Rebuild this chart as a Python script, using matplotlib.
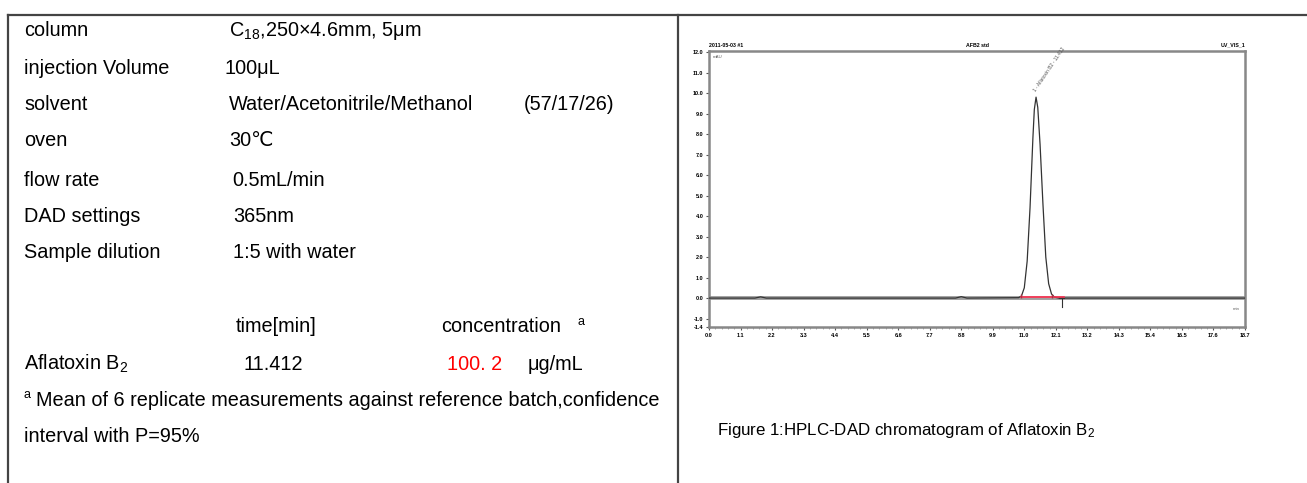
import numpy as np
import matplotlib.pyplot as plt
from matplotlib.lines import Line2D

plt.rcParams['font.family'] = ['Liberation Sans', 'DejaVu Sans']
plt.rcParams['mathtext.fontset'] = 'custom'
plt.rcParams['mathtext.rm'] = 'Liberation Sans'
plt.rcParams['mathtext.it'] = 'Liberation Sans'
plt.rcParams['mathtext.bf'] = 'Liberation Sans:bold'

# --- method table (left panel) ---
param_names = ["column", "injection Volume", "solvent", "oven",
               "flow rate", "DAD settings", "Sample dilution"]
param_values = ["C$_{18}$,250×4.6mm, 5μm", "100μL", "Water/Acetonitrile/Methanol",
                "30℃", "0.5mL/min", "365nm", "1:5 with water"]
solvent_ratio = "(57/17/26)"
compound = "Aflatoxin B$_2$"
ret_time = "11.412"
concentration = "100. 2"
conc_unit = "μg/mL"

# --- chromatogram ---
time_min = [0.0, 1.6, 1.8, 2.0, 8.6, 8.8, 9.0, 10.8, 10.9, 11.0, 11.1, 11.2, 11.3, 11.35,
            11.41, 11.47, 11.55, 11.65, 11.75, 11.85, 11.95, 12.05, 12.2, 18.7]
signal_mau = [0.0, 0.0, 0.06, 0.0, 0.0, 0.07, 0.0, 0.02, 0.1, 0.5, 1.8, 4.4, 7.8, 9.2,
              9.8, 9.3, 7.5, 4.6, 2.0, 0.7, 0.2, 0.05, 0.0, 0.0]
x_ticks = [0.0, 1.1, 2.2, 3.3, 4.4, 5.5, 6.6, 7.7, 8.8, 9.9, 11.0, 12.1, 13.2, 14.3,
           15.4, 16.5, 17.6, 18.7]
y_ticks = [-1.4, -1, 0, 1, 2, 3, 4, 5, 6, 7, 8, 9, 10, 11, 12]
integration_start, integration_end = 10.9, 12.4

W, H = 1307, 483
fig = plt.figure(figsize=(W / 100, H / 100), dpi=100)


def fx(px):
    return px / W


def fy(py):
    return 1 - py / H


# border lines
border = dict(color='#444444', lw=1.6, transform=fig.transFigure)
fig.add_artist(Line2D([fx(8), 1], [fy(15), fy(15)], **border))
fig.add_artist(Line2D([fx(8), fx(8)], [fy(15), 0], **border))
fig.add_artist(Line2D([fx(678), fx(678)], [fy(15), 0], **border))

fs = 14.3
row_y = [31, 68, 104, 141, 180, 216, 253]
val_x = [229, 224, 229, 229, 232, 233, 233]
for name, val, y, vx in zip(param_names, param_values, row_y, val_x):
    fig.text(fx(24), fy(y), name, fontsize=fs, va='center')
    fig.text(fx(vx), fy(y), val, fontsize=fs, va='center')
fig.text(fx(524), fy(104), solvent_ratio, fontsize=fs, va='center')

fig.text(fx(236), fy(327), "time[min]", fontsize=fs, va='center')
fig.text(fx(441), fy(327), "concentration", fontsize=fs, va='center')
fig.text(fx(578), fy(322), "a", fontsize=9, va='center')
fig.text(fx(24), fy(364), compound, fontsize=fs, va='center')
fig.text(fx(244), fy(364), ret_time, fontsize=fs, va='center')
fig.text(fx(447), fy(364), concentration, fontsize=fs, va='center', color='#ff0000')
fig.text(fx(528), fy(364), conc_unit, fontsize=fs, va='center')
fig.text(fx(24), fy(395), "a", fontsize=9, va='center')
fig.text(fx(36), fy(400), "Mean of 6 replicate measurements against reference batch,confidence",
         fontsize=fs, va='center')
fig.text(fx(24), fy(437), "interval with P=95%", fontsize=fs, va='center')

fig.text(fx(717), fy(431), "Figure 1:HPLC-DAD chromatogram of Aflatoxin B$_2$", fontsize=12.2,
         va='center')

# chromatogram axes
ax = fig.add_axes([fx(709), fy(327), fx(1245) - fx(709), (327 - 51) / H])
ax.axhline(0, color='#a0a0a0', lw=2.8, zorder=1)
ax.plot(time_min, signal_mau, color='#333333', lw=0.9, zorder=3)
ax.plot([integration_start, integration_end], [0.05, 0.05], color='#ff3050', lw=1.2, zorder=4)
ax.plot([integration_start, 11.95], [0.1, 0.1], ls='none', marker='|', ms=3, color='#aa3344', zorder=5)
ax.plot([12.3, 12.3], [0.0, -0.45], color='#333333', lw=0.8, zorder=4)
ax.plot([12.22, 12.38], [0.0, 0.0], color='#333333', lw=0.8, zorder=4)
ax.text(11.42, 10.0, "1 - Aflatoxin B2 - 11.412", rotation=56, fontsize=3.5, color='#555555',
        ha='left', va='bottom', rotation_mode='anchor')

ax.set_xlim(x_ticks[0], x_ticks[-1])
ax.set_ylim(-1.41, 12.05)
ax.set_xticks(x_ticks)
ax.set_xticklabels([f"{t:.1f}" for t in x_ticks], fontsize=4, fontweight='bold')
ax.set_xticks(np.arange(0, 18.7, 0.22), minor=True)
ax.set_yticks(y_ticks)
ax.set_yticklabels([f"{t:.1f}" for t in y_ticks], fontsize=4, fontweight='bold')
ax.tick_params(axis='both', which='major', length=2.5, width=0.8, pad=1.5, color='#555555')
ax.tick_params(axis='x', which='minor', length=1.2, width=0.5, color='#888888')
for s in ax.spines.values():
    s.set_color('#888888')
    s.set_linewidth(1.8)

ax.text(0.007, 0.985, "mAU", transform=ax.transAxes, fontsize=3.2, color='#666666', va='top')
ax.text(0.99, 0.06, "min", transform=ax.transAxes, fontsize=3.2, color='#666666', ha='right')
ax.text(0.0, 1.012, "2011-05-03 #1", transform=ax.transAxes, fontsize=3.8, fontweight='bold',
        va='bottom')
ax.text(0.50, 1.012, "AFB2 std", transform=ax.transAxes, fontsize=3.8, fontweight='bold',
        va='bottom', ha='center')
ax.text(1.0, 1.012, "UV_VIS_1", transform=ax.transAxes, fontsize=3.8, fontweight='bold',
        va='bottom', ha='right')

fig.savefig("out.png", dpi=100)
